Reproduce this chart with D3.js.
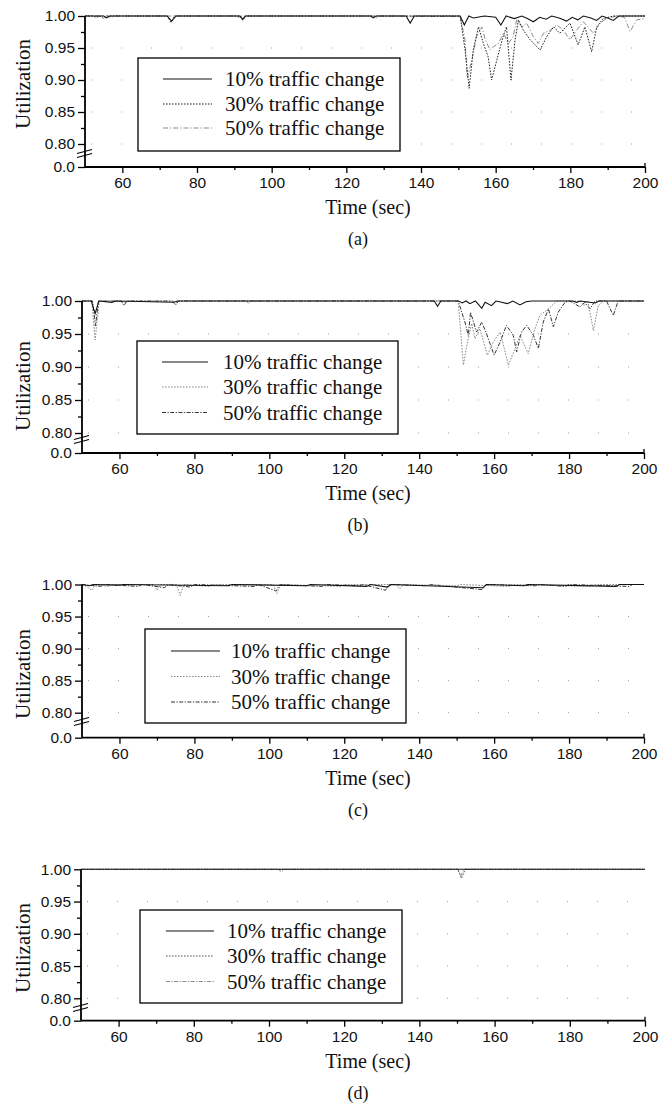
<!DOCTYPE html>
<html><head><meta charset="utf-8">
<script src="https://cdn.jsdelivr.net/npm/d3@7"></script>
<style>body{margin:0;background:#fff}svg{display:block}</style>
</head><body><svg id="chart" width="672" height="1108"></svg>
<script>
// ---------- data ----------
const xTicks=[60,80,100,120,140,160,180,200];
const xMinor=[70,90,110,130,150,170,190];
const yTicks=[0.80,0.85,0.90,0.95,1.00];
const yMinor=[0.825,0.875,0.925,0.975];
const gridVals=[0.80,0.85,0.90,0.95];
const seriesNames=["10% traffic change","30% traffic change","50% traffic change"];
const captions=["(a)","(b)","(c)","(d)"];

const a10=[[50,1],[55,1],[55.8,0.997],[56.6,1],[72,1],[73.2,0.992],[74.4,1],[91.5,1],[92.2,0.995],[93,1],[126.5,1],[127.2,0.997],[128,1],[136,1],[137.1,0.989],[138.2,1],[150.5,1],[151.6,0.986],[152.8,1],[154,0.997],[157,1],[160,0.998],[161.4,0.986],[162.8,1],[165,0.996],[167,1],[168.5,0.996],[170.1,0.991],[171.8,0.998],[173.5,0.995],[175,1],[177,0.997],[179,0.992],[180.5,0.998],[182,0.994],[183.5,1],[185.5,0.997],[187,0.993],[188.5,1],[190,0.997],[191.5,0.993],[193,1],[200,1]];
const a30=[[50,1],[52,1],[53,0.998],[54,1],[55,0.996],[56,1],[72,1],[73,0.99],[74,1],[91.5,1],[92.3,0.993],[93,1],[150.5,1],[151.8,0.947],[152.9,0.887],[154.0,0.947],[155.4,0.983],[156.7,0.957],[158.0,0.936],[158.9,0.900],[160.3,0.931],[162.0,0.968],[162.9,0.983],[164.1,0.900],[165.2,0.963],[166.1,0.994],[167.4,0.978],[169.2,0.963],[171.9,0.947],[173.7,0.968],[175.5,0.983],[177.2,0.973],[179.9,0.989],[182.1,0.955],[183.9,0.983],[185.7,0.944],[187.1,0.983],[188.8,0.996],[191.5,1],[200,1]];
const a50=[[50,1],[56,1],[57,0.998],[58,1],[90,1],[91,0.998],[92,1],[127,1],[128,0.997],[129,1],[150.5,0.999],[151.8,0.9625],[152.4,0.903],[153.6,0.931],[154.9,0.968],[156.3,0.983],[157.2,0.963],[158.5,0.947],[159.4,0.952],[160.7,0.957],[162.1,0.973],[163.4,0.957],[164.7,0.968],[165.6,0.994],[167.0,0.983],[168.3,0.989],[170.1,0.968],[171.4,0.957],[172.8,0.973],[174.6,0.978],[176.4,0.986],[178.1,0.978],[179.9,0.963],[181.7,0.978],[183.5,0.991],[186.2,0.973],[188.0,0.989],[189.7,0.996],[192.4,1],[194.5,0.998],[196.0,0.976],[197.8,0.994],[200,0.996]];

const b10=[[50,1],[52.5,1],[53.5,0.981],[54.5,1],[58,0.998],[59,1],[74.5,0.998],[75.5,1],[144,1],[144.9,0.992],[145.8,1],[150.5,1],[151.5,0.997],[152.5,1],[153.5,0.996],[155,1],[156.7,0.989],[157.6,0.998],[159.3,0.993],[160.5,1],[162,0.998],[163.5,0.996],[165,1],[166.9,0.994],[168.5,0.999],[170,1],[181,1],[182,0.998],[183,1],[187,0.997],[188,1],[200,1]];
const b30=[[50,1],[52.6,1],[53.5,0.941],[54.6,1],[60.5,1],[61,0.994],[61.8,1],[74,1],[74.8,0.995],[75.6,1],[93.8,1],[94.4,0.996],[95,1],[150.4,1],[151.8,0.903],[152.7,0.933],[154.0,0.966],[154.9,0.943],[156.2,0.958],[158.2,0.918],[159.8,0.938],[161.6,0.953],[163.8,0.903],[165.6,0.928],[166.9,0.948],[169.1,0.920],[170.9,0.958],[172.2,0.978],[174.0,0.986],[175.4,0.993],[176.7,1],[183,1],[184,0.993],[185,1],[186.5,0.955],[187.8,0.993],[189.1,1],[200,1]];
const b50=[[50,1],[52.8,1],[53.6,0.962],[54.4,1],[60.5,1],[61.2,0.993],[62,1],[74.2,1],[75,0.994],[75.8,1],[150.4,1],[152.2,0.968],[153.1,0.948],[153.7,0.983],[155.3,0.953],[156.7,0.968],[157.8,0.953],[160.0,0.918],[161.6,0.938],[163.3,0.963],[165.1,0.948],[166.0,0.923],[167.3,0.953],[168.7,0.963],[170.5,0.948],[171.8,0.928],[173.1,0.968],[174.5,0.988],[175.8,0.961],[177.1,0.983],[178.9,0.998],[180.2,1],[182.9,0.991],[184.2,0.998],[185.6,0.988],[186.9,1],[190,1],[191.8,0.978],[193.1,1],[200,1]];

const c10=[[50,1],[52,0.998],[53,1],[60,0.999],[61,1],[89,0.998],[90,1],[110,0.998],[111,1],[126,0.997],[127,1],[131.5,0.996],[132.5,1],[157,0.995],[158,1],[168,0.998],[169,1],[192.5,0.997],[193.5,1],[200,1]];
const c30=[[50,1],[51.5,0.996],[52.6,0.991],[53.6,1],[57,0.997],[58,1],[69,1],[70,0.991],[71,1],[75.2,1],[76.2,0.983],[77.2,1],[84,0.997],[85,1],[101,1],[102,0.986],[103,1],[119,0.997],[120,1],[133.8,1],[134.8,0.993],[135.8,1],[150,0.998],[151,1],[164,0.997],[165,1],[186,0.997],[187,1],[200,1]];
const c50=[[50,1],[55,0.997],[56,1],[65,0.997],[66,1],[72,0.995],[73,1],[79,0.996],[80,1],[96,0.997],[97,1],[101.8,0.99],[102.8,1],[114,0.997],[115,1],[124,0.998],[125,1],[131,0.991],[132,1],[142,0.998],[143,1],[156.8,0.992],[157.8,1],[171,0.998],[172,1],[179,0.997],[180,1],[196,0.997],[197,1],[200,1]];

const d10=[[50,1],[200,1]];
const d30=[[50,1],[150.2,1],[151.2,0.986],[152.2,1],[200,1]];
const d50=[[50,1],[102.5,1],[103.3,0.996],[104,1],[150.3,1],[151,0.99],[151.8,1],[200,1]];

const panelSeries=[[a10,a30,a50],[b10,b30,b50],[c10,c30,c50],[d10,d30,d50]];

// ---------- layout / style ----------
const layout=[
 {left:85,right:645,y1:16,y80:144,y0:167,brk:151,ylab:84,leg:{x0:138,x1:400,y0:58,y1:151,rows:[79,104,128],l0:163,l1:212,tx:225}},
 {left:82,right:644,y1:301,y80:433,y0:453,brk:437,ylab:386,leg:{x0:137,x1:398,y0:341,y1:434,rows:[362,387,412.5],l0:162,l1:208,tx:223}},
 {left:82,right:644,y1:584.5,y80:712.7,y0:737.7,brk:719,ylab:674,leg:{x0:145,x1:406,y0:629,y1:723,rows:[651,676.5,702],l0:171,l1:220,tx:231}},
 {left:81,right:645,y1:869.3,y80:998.3,y0:1020.7,brk:1005,ylab:948,leg:{x0:140,x1:402,y0:910,y1:1003,rows:[931,956,981.5],l0:166,l1:214,tx:227}}
];
const styles=[
 [{c:"#111",d:null},{c:"#222",d:"1.6,1.4"},{c:"#8a8a8a",d:"5,2,1.2,2"}],
 [{c:"#111",d:null},{c:"#8a8a8a",d:"1.6,1.4"},{c:"#333",d:"4,1.5,1.2,1.5"}],
 [{c:"#111",d:null},{c:"#8a8a8a",d:"1.6,1.4"},{c:"#333",d:"4,1.5,1.2,1.5"}],
 [{c:"#111",d:null},{c:"#555",d:"1.6,1.4"},{c:"#8a8a8a",d:"4,1.5,1.2,1.5"}]
];
const sans="'Liberation Sans', Arial, sans-serif";
const serif="'Liberation Serif', 'Times New Roman', serif";

const svg=d3.select("#chart");

layout.forEach((L,pi)=>{
  const g=svg.append("g");
  const x=d3.scaleLinear().domain([50,200]).range([L.left,L.right]);
  const y=d3.scaleLinear().domain([0.8,1.0]).range([L.y80,L.y1]);
  const yLow=d3.scaleLinear().domain([0,0.05]).range([L.y0,L.y0-10]);

  // sparse dotted grid
  g.selectAll(".grid").data(gridVals).join("line")
    .attr("x1",L.left+6).attr("x2",L.right-4)
    .attr("y1",d=>y(d)).attr("y2",d=>y(d))
    .attr("stroke","#999").attr("stroke-width",1).attr("stroke-dasharray","1,29");

  // series
  const line=d3.line().x(d=>x(d[0])).y(d=>y(d[1]));
  [2,1,0].forEach(si=>{
    const st=styles[pi][si];
    g.append("path").datum(panelSeries[pi][si]).attr("d",line)
      .attr("fill","none").attr("stroke",st.c).attr("stroke-width",si===0?1.1:1)
      .attr("stroke-dasharray",st.d);
  });

  // y axis upper
  const ya=g.append("g").attr("transform",`translate(${L.left},0)`)
    .call(d3.axisLeft(y).tickValues(yTicks).tickFormat(d3.format(".2f")).tickSize(7).tickPadding(3));
  ya.select(".domain").remove();
  const ym=g.append("g").attr("transform",`translate(${L.left},0)`)
    .call(d3.axisLeft(y).tickValues(yMinor).tickFormat("").tickSize(4));
  ym.select(".domain").remove();
  const yl=g.append("g").attr("transform",`translate(${L.left},0)`)
    .call(d3.axisLeft(yLow).tickValues([0]).tickFormat(d3.format(".1f")).tickSize(7).tickPadding(3));
  yl.select(".domain").remove();
  [ya,ym,yl].forEach(a=>{
    a.selectAll("line").attr("stroke","#000").attr("stroke-width",1.3);
    a.selectAll("text").attr("font-family",sans).attr("font-size",15.5).attr("fill","#111");
  });

  // x axis
  const xa=g.append("g").attr("transform",`translate(0,${L.y0})`)
    .call(d3.axisBottom(x).tickValues(xTicks).tickSize(6).tickPadding(4));
  xa.select(".domain").remove();
  const xm=g.append("g").attr("transform",`translate(0,${L.y0})`)
    .call(d3.axisBottom(x).tickValues(xMinor).tickFormat("").tickSize(3));
  xm.select(".domain").remove();
  [xa,xm].forEach(a=>{
    a.selectAll("line").attr("stroke","#000").attr("stroke-width",1.3);
    a.selectAll("text").attr("font-family",sans).attr("font-size",15.5).attr("fill","#111");
  });

  // axis lines
  g.append("line").attr("x1",L.left).attr("x2",L.left).attr("y1",y(1.0)).attr("y2",L.y0)
    .attr("stroke","#000").attr("stroke-width",1.8);
  g.append("line").attr("x1",L.left).attr("x2",L.right).attr("y1",L.y0).attr("y2",L.y0)
    .attr("stroke","#000").attr("stroke-width",1.8);
  g.append("line").attr("x1",x(200)).attr("x2",x(200)).attr("y1",L.y0-4).attr("y2",L.y0)
    .attr("stroke","#000").attr("stroke-width",1.3);

  // axis break
  [0,4].forEach(o=>{
    g.append("line").attr("x1",L.left-8).attr("y1",L.brk+o+2.5)
      .attr("x2",L.left+7).attr("y2",L.brk+o-1.5)
      .attr("stroke","#000").attr("stroke-width",1.2);
  });

  // axis titles
  g.append("text").attr("transform",`translate(23,${L.ylab}) rotate(-90)`)
    .attr("text-anchor","middle").attr("dominant-baseline","central")
    .attr("font-family",serif).attr("font-size",21).attr("fill","#111").text("Utilization");
  g.append("text").attr("x",368).attr("y",L.y0+40).attr("text-anchor","middle")
    .attr("dominant-baseline","central").attr("font-family",serif).attr("font-size",20)
    .attr("fill","#111").text("Time (sec)");
  g.append("text").attr("x",358).attr("y",L.y0+72).attr("text-anchor","middle")
    .attr("dominant-baseline","central").attr("font-family",serif).attr("font-size",18)
    .attr("fill","#111").text(captions[pi]);

  // legend
  const lg=L.leg;
  g.append("rect").attr("x",lg.x0).attr("y",lg.y0).attr("width",lg.x1-lg.x0).attr("height",lg.y1-lg.y0)
    .attr("fill","#fff").attr("stroke","#000").attr("stroke-width",1.3);
  seriesNames.forEach((nm,si)=>{
    const st=styles[pi][si];
    g.append("line").attr("x1",lg.l0).attr("x2",lg.l1).attr("y1",lg.rows[si]).attr("y2",lg.rows[si])
      .attr("stroke",st.c).attr("stroke-width",1.1).attr("stroke-dasharray",st.d);
    g.append("text").attr("x",lg.tx).attr("y",lg.rows[si]).attr("dominant-baseline","central")
      .attr("font-family",serif).attr("font-size",21).attr("fill","#111").text(nm);
  });
});
</script>
</body></html>
